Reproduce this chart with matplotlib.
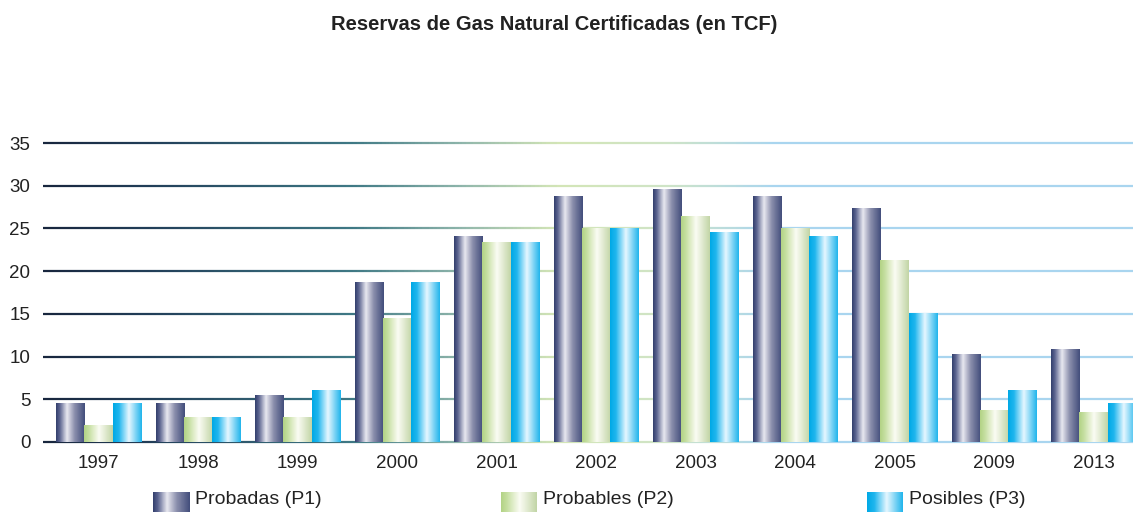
import numpy as np
import matplotlib.pyplot as plt
from matplotlib.collections import LineCollection
from matplotlib.colors import LinearSegmentedColormap

#%% data (TCF)
years = ['1997', '1998', '1999', '2000', '2001', '2002', '2003', '2004', '2005', '2009', '2013']
probadas = [4.5, 4.5, 5.5, 18.7, 24.0, 28.7, 29.6, 28.7, 27.3, 10.3, 10.8]
probables = [1.9, 2.9, 2.9, 14.4, 23.3, 25.0, 26.4, 25.0, 21.3, 3.7, 3.4]
posibles = [4.5, 2.9, 6.0, 18.7, 23.3, 25.0, 24.5, 24.0, 15.0, 6.0, 4.5]
labels = ['Probadas (P1)', 'Probables (P2)', 'Posibles (P3)']
yticks = [0, 5, 10, 15, 20, 25, 30, 35]

#%% styles
plt.rcParams['font.family'] = ['Liberation Sans', 'DejaVu Sans']

p1_cmap = LinearSegmentedColormap.from_list('p1', [(0, '#34406e'), (0.12, '#59628e'), (0.38, '#e8e8f0'),
                                                  (0.65, '#8a8eac'), (1, '#434e7c')])
p2_cmap = LinearSegmentedColormap.from_list('p2', [(0, '#b3d386'), (0.15, '#c4de9e'), (0.52, '#fbfcf4'),
                                                  (1, '#c2d5a6')])
p3_cmap = LinearSegmentedColormap.from_list('p3', [(0, '#00a9e6'), (0.2, '#20b6ee'), (0.55, '#e6f7ff'),
                                                  (1, '#22b5ec')])
grid_cmap = LinearSegmentedColormap.from_list('grid', [(0, '#18263e'), (0.1, '#22405a'), (0.28, '#3e7884'),
                                                      (0.38, '#8db4aa'), (0.47, '#d3e5b6'), (0.57, '#cfe4c6'),
                                                      (0.67, '#a9d5ef'), (1, '#a9d5ef')])
grad = np.linspace(0, 1, 64).reshape(1, -1)

W, H = 1133, 512
fig = plt.figure(figsize=(W / 100, H / 100), dpi=100)
ax = fig.add_axes([43 / W, (H - 442) / H, 1 - 43 / W, 299 / H])

x = np.arange(len(years))
w = 0.284
for k, (vals, cmap) in enumerate([(probadas, p1_cmap), (probables, p2_cmap), (posibles, p3_cmap)]):
    bars = ax.bar(x + (k - 1) * w, vals, w, color='none', edgecolor='none')
    for b in bars:
        ax.imshow(grad, cmap=cmap, aspect='auto', zorder=3, interpolation='bilinear',
                  extent=[b.get_x(), b.get_x() + b.get_width(), 0, b.get_height()])

# gradient gridlines
xs = np.linspace(0, 1, 300)
for yv in yticks:
    segs = [[(xs[i], yv), (xs[i + 1], yv)] for i in range(len(xs) - 1)]
    lc = LineCollection(segs, colors=grid_cmap(xs[:-1]), linewidths=1.6,
                        transform=ax.get_yaxis_transform(), zorder=1, clip_on=False)
    ax.add_collection(lc)

ax.set_xlim(-0.558, 10.397)
ax.set_ylim(0, 35)
ax.set_xticks(x)
ax.set_xticklabels(years)
ax.set_yticks(yticks)
ax.tick_params(axis='both', length=0, labelsize=13.5, colors='#222222')
ax.tick_params(axis='x', pad=9)
ax.tick_params(axis='y', pad=9)
for s in ax.spines.values():
    s.set_visible(False)

fig.text(554 / W, 1 - 25 / H, 'Reservas de Gas Natural Certificadas (en TCF)', ha='center', va='center',
         fontsize=14.5, fontweight='bold', color='#222222')

# legend
for left, lab, cmap in zip([153, 501, 867], labels, [p1_cmap, p2_cmap, p3_cmap]):
    lax = fig.add_axes([left / W, 0, 36 / W, 20 / H])
    lax.imshow(grad, cmap=cmap, aspect='auto', interpolation='bilinear')
    lax.axis('off')
    fig.text((left + 42) / W, 12 / H, lab, ha='left', va='center', fontsize=14, color='#222222')

fig.savefig('out.png', dpi=100)
